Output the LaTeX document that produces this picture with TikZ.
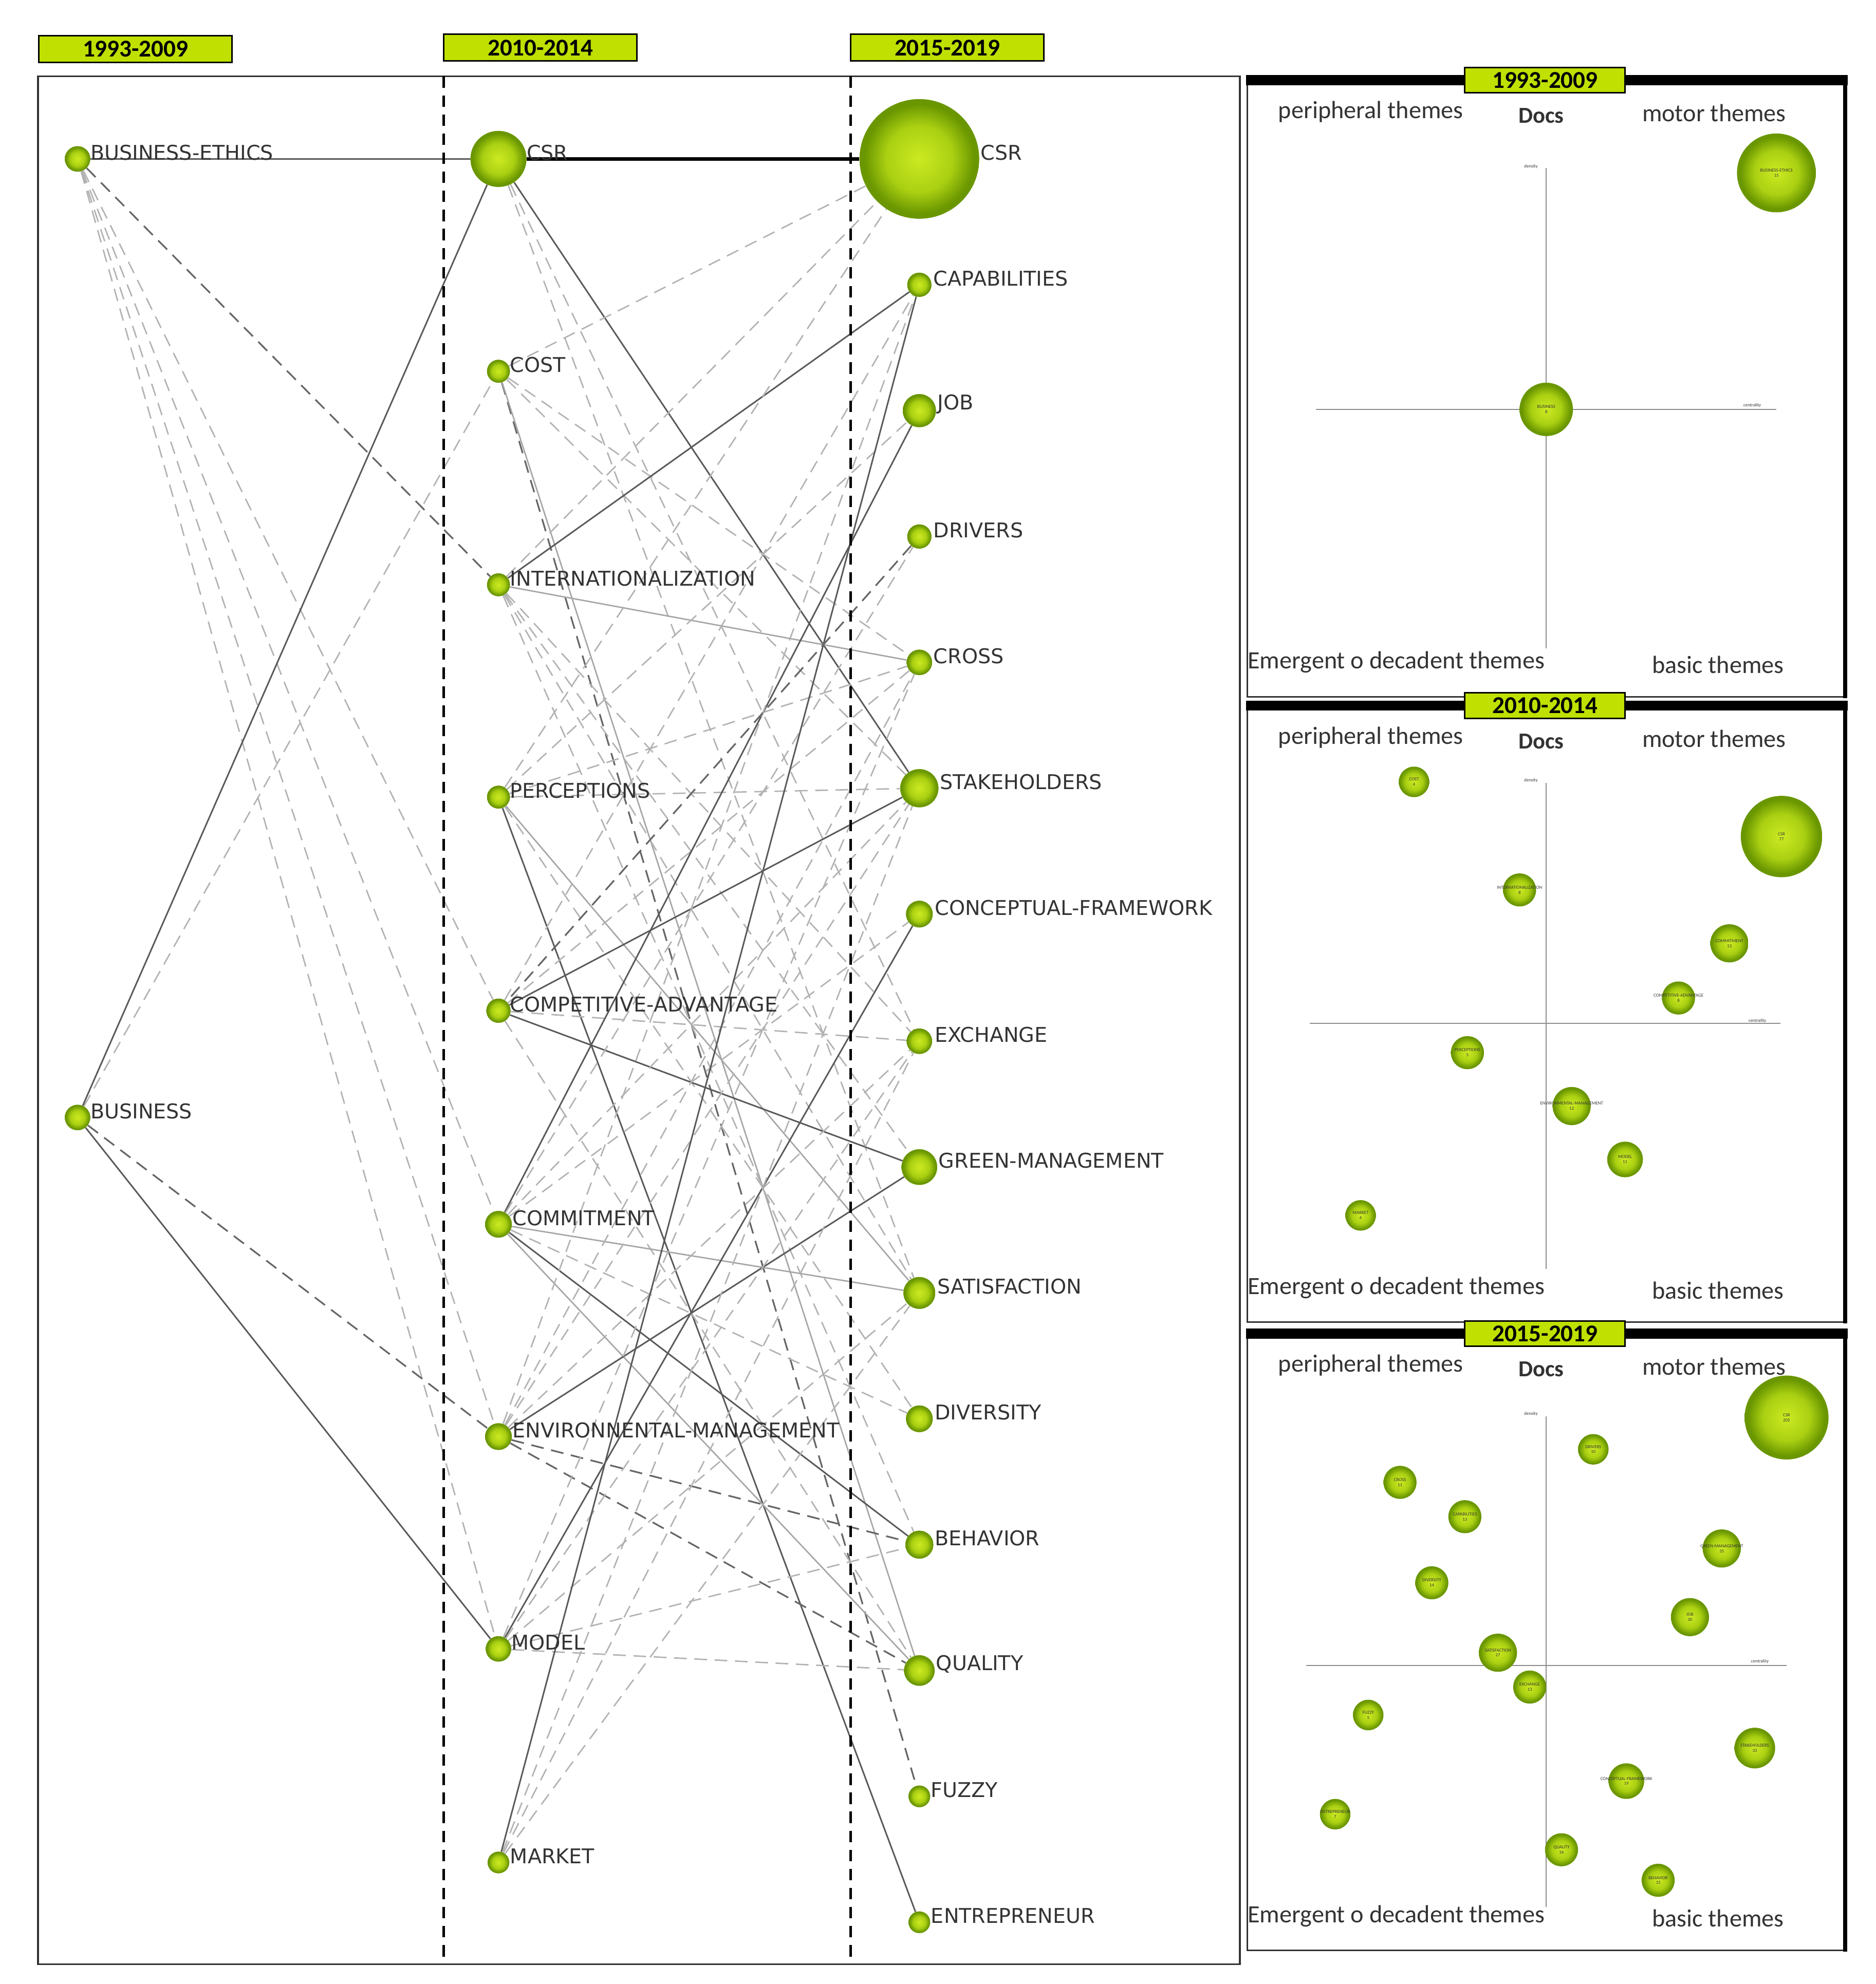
\documentclass[tikz,border=0pt]{standalone}
\usepackage{fontspec}
\setmainfont{Carlito}
\newfontfamily\verd{DejaVu Sans}
\definecolor{lime}{HTML}{BFE000}
\definecolor{glt}{HTML}{CCEA22}
\definecolor{gmd}{HTML}{AAD012}
\definecolor{gdk}{HTML}{6A9600}
\pgfdeclareradialshading{gball}{\pgfpoint{0bp}{0bp}}{color(0bp)=(glt); color(14bp)=(gmd); color(23bp)=(gdk); color(25bp)=(gdk); color(50bp)=(gdk)}
\begin{document}
\begin{tikzpicture}[x=1pt,y=-1pt,
 ball/.style={circle,shading=gball,draw=none,inner sep=0pt,minimum size=#1},
 lbl/.style={anchor=west,font=\verd\fontsize{16}{16}\selectfont,text=black!80,inner sep=0pt},
 tag/.style={draw=black,line width=1.2pt,fill=lime,minimum width=152pt,minimum height=21pt,inner sep=0pt,font=\bfseries\fontsize{19}{19}\selectfont},
 sd/.style={draw=black!65,line width=1.2pt},
 sl/.style={draw=black!35,line width=1.1pt},
 dd/.style={draw=black!60,line width=1.3pt,dash pattern=on 10pt off 6pt},
 dl/.style={draw=black!30,line width=1.1pt,dash pattern=on 10pt off 6pt},
 ptxt/.style={font=\fontsize{19.5}{19.5}\selectfont,text=black!80,inner sep=0pt},
 btxt/.style={font=\fontsize{3.6}{4}\selectfont,align=center,inner sep=0pt,text=black!80},
 ax/.style={draw=black!45,line width=1pt}]
\useasboundingbox (0,0) rectangle (1475,1560.6);
% ---------- left frame ----------
\draw[line width=1.5pt,black!80] (30,60) rectangle (975,1545);
\coordinate (d1t) at (349,60); \coordinate (d1b) at (349,1545);
\coordinate (d2t) at (669,60); \coordinate (d2b) at (669,1545);
\node[tag] (t1) at (106.5,38.5) {1993-2009};
\node[tag] (t2) at (425,37.5) {2010-2014};
\node[tag] (t3) at (745,37.5) {2015-2019};
% ---------- nodes ----------
\node[ball=20pt] (be) at (61,125) {};
\node[ball=20pt] (bu) at (61,879) {};
\node[ball=44pt] (c2) at (392,125) {};
\node[ball=18pt] (cost) at (392,292) {};
\node[ball=18pt] (intl) at (392,460) {};
\node[ball=18pt] (perc) at (392,627) {};
\node[ball=19pt] (comp) at (392,795) {};
\node[ball=21pt] (comm) at (392,963) {};
\node[ball=21pt] (env) at (392,1130) {};
\node[ball=20pt] (model) at (392,1297) {};
\node[ball=17pt] (market) at (392,1465) {};
\node[ball=94pt] (c3) at (723,125) {};
\node[ball=19pt] (cap) at (723,224) {};
\node[ball=26pt] (job) at (723,323) {};
\node[ball=19pt] (drv) at (723,422) {};
\node[ball=20pt] (cross) at (723,521) {};
\node[ball=30pt] (stk) at (723,620) {};
\node[ball=21pt] (conc) at (723,719) {};
\node[ball=20pt] (exch) at (723,819) {};
\node[ball=28pt] (green) at (723,918) {};
\node[ball=25pt] (sat) at (723,1017) {};
\node[ball=21pt] (div) at (723,1116) {};
\node[ball=22pt] (beh) at (723,1215) {};
\node[ball=24pt] (qual) at (723,1314) {};
\node[ball=17pt] (fuz) at (723,1413) {};
\node[ball=17pt] (ent) at (723,1512) {};
% ---------- edges ----------
\path[dl] (be) -- (comp); \path[dl] (be) -- (comm); \path[dl] (be) -- (env); \path[dl] (be) -- (model);
\path[dd] (be) -- (intl);
\path[dl] (bu) -- (cost); \path[dd] (bu) -- (env);
\path[sd] (be) -- (c2); \path[sd] (bu) -- (c2); \path[sd] (bu) -- (model);
\path[draw=black,line width=3pt] (c2) -- (c3);
\path[sd] (c2) -- (stk);
\path[dl] (c2) -- (sat); \path[dl] (c2) -- (exch);
\path[dl] (cost) -- (c3); \path[dl] (cost) -- (cross); \path[dl] (cost) -- (stk);
\path[dd] (cost) -- (fuz); \path[sl] (cost) -- (qual);
\path[dl] (intl) -- (c3); \path[sd] (intl) -- (cap); \path[sl] (intl) -- (cross);
\path[dl] (intl) -- (green); \path[dl] (intl) -- (sat); \path[dl] (intl) -- (exch); \path[dl] (intl) -- (beh);
\path[dl] (perc) -- (c3); \path[dl] (perc) -- (stk); \path[sl] (perc) -- (sat); \path[sd] (perc) -- (ent);
\path[dl] (perc) -- (cross); \path[dl] (perc) -- (div); \path[dl] (perc) -- (job);
\path[sd] (comp) -- (stk); \path[sd] (comp) -- (green); \path[dl] (comp) -- (cross); \path[dl] (comp) -- (qual); \path[dl] (comp) -- (exch); \path[dl] (comp) -- (cap);
\path[sd] (comm) -- (job); \path[sl] (comm) -- (sat); \path[sd] (comm) -- (beh); \path[sl] (comm) -- (qual);
\path[dl] (comm) -- (stk); \path[dl] (comm) -- (conc); \path[dl] (comm) -- (drv); \path[dl] (comm) -- (div);
\path[sd] (env) -- (green); \path[dd] (env) -- (beh); \path[dd] (env) -- (qual);
\path[dl] (env) -- (cross); \path[dl] (env) -- (exch); \path[dl] (env) -- (stk); \path[dl] (env) -- (cap);
\path[sd] (model) -- (conc); \path[dl] (model) -- (qual); \path[dl] (model) -- (beh); \path[dl] (model) -- (sat); \path[dl] (model) -- (cross); \path[dl] (model) -- (exch);
\path[sd] (market) -- (cap); \path[dl] (market) -- (sat); \path[dl] (market) -- (exch); \path[dl] (market) -- (stk);
\path[dd] (drv) -- (comp);
% redraw balls above edges
\foreach \n/\s in {be/20,bu/20,c2/44,cost/18,intl/18,perc/18,comp/19,comm/21,env/21,model/20,market/17,c3/94,cap/19,job/26,drv/19,cross/20,stk/30,conc/21,exch/20,green/28,sat/25,div/21,beh/22,qual/24,fuz/17,ent/17}
 \node[ball=\s pt] at (\n) {};
\draw[line width=2pt,dash pattern=on 9pt off 6pt] (d1t) -- (d1b);
\draw[line width=2pt,dash pattern=on 9pt off 6pt] (d2t) -- (d2b);
% labels
\node[lbl] at (71,120) {BUSINESS-ETHICS};
\node[lbl] at (71,874) {BUSINESS};
\node[lbl] at (414,120) {CSR};
\node[lbl] at (401,287) {COST};
\node[lbl] at (401,455) {INTERNATIONALIZATION};
\node[lbl] at (401,622) {PERCEPTIONS};
\node[lbl] at (401,790) {COMPETITIVE-ADVANTAGE};
\node[lbl] at (403,958) {COMMITMENT};
\node[lbl] at (403,1125) {ENVIRONNENTAL-MANAGEMENT};
\node[lbl] at (402,1292) {MODEL};
\node[lbl] at (401,1460) {MARKET};
\node[lbl] at (771,120) {CSR};
\node[lbl] at (734,219) {CAPABILITIES};
\node[lbl] at (737,318) {JOB};
\node[lbl] at (734,417) {DRIVERS};
\node[lbl] at (734,516) {CROSS};
\node[lbl] at (739,615) {STAKEHOLDERS};
\node[lbl] at (735,714) {CONCEPTUAL-FRAMEWORK};
\node[lbl] at (735,814) {EXCHANGE};
\node[lbl] at (738,913) {GREEN-MANAGEMENT};
\node[lbl] at (737,1012) {SATISFACTION};
\node[lbl] at (735,1111) {DIVERSITY};
\node[lbl] at (735,1210) {BEHAVIOR};
\node[lbl] at (736,1309) {QUALITY};
\node[lbl] at (732,1408) {FUZZY};
\node[lbl] at (732,1507) {ENTREPRENEUR};
% ---------- right panels ----------
\foreach \i/\dy/\yr in {1/0/1993-2009,2/492/2010-2014,3/986/2015-2019}{
 \begin{scope}[yshift=-\dy pt]
  \draw[black!80,line width=1.3pt] (981,63) -- (981,548) -- (1451,548);
  \draw[black,line width=3pt] (1451,63) -- (1451,549);
  \draw[black,line width=8pt] (980,63) -- (1453,63);
  \node[tag,minimum width=126pt,minimum height=20pt,font=\bfseries\fontsize{19}{19}\selectfont] (pt\i) at (1215,63) {\yr};
  \node[ptxt] (pa\i) at (1078,88) {peripheral themes};
  \node[ptxt,font=\bfseries\fontsize{18}{18}\selectfont] (pb\i) at (1212,91) {Docs};
  \node[ptxt] (pc\i) at (1348,89) {motor themes};
  \node[ptxt] (pd\i) at (1098,521) {Emergent o decadent themes};
  \node[ptxt] (pe\i) at (1351,523) {basic themes};
 \end{scope}}
% panel axes
\draw[ax] (1216,132) -- (1216,510); \draw[ax] (1035,322) -- (1397,322);
\node[btxt] at (1204,131) {density}; \node[btxt] at (1378,319) {centrality};
\draw[ax] (1216,616) -- (1216,998); \draw[ax] (1030,805) -- (1400,805);
\node[btxt] at (1204,614) {density}; \node[btxt] at (1382,803) {centrality};
\draw[ax] (1216,1114) -- (1216,1500); \draw[ax] (1027,1310) -- (1405,1310);
\node[btxt] at (1204,1112) {density}; \node[btxt] at (1384,1307) {centrality};
% panel bubbles
\foreach \n/\x/\y/\r/\t/\c in {
 qbe/1397/136/31/BUSINESS-ETHICS/15, qbu/1216/322/21/BUSINESS/8,
 rcost/1112/615/12/COST/4, rcsr/1401/658/32/CSR/77, rint/1195/700/13/INTERNATIONALIZATION/8,
 rcom/1360/742/15/COMMITMENT/13, rcad/1320/785/13/COMPETITIVE-ADVANTAGE/8, rper/1154/828/13/PERCEPTIONS/5,
 renv/1236/870/15/ENVIRONMENTAL-MANAGEMENT/12, rmod/1278/912/14/MODEL/11, rmar/1070/956/12/MARKET/4,
 scsr/1405/1115/33/CSR/205, sdrv/1253/1140/12/DRIVERS/10, scro/1101/1166/13/CROSS/11, scap/1152/1193/13/CAPABILITIES/13,
 sgre/1354/1218/15/GREEN-MANAGEMENT/35, sdiv/1126/1245/13/DIVERSITY/14, sjob/1329/1272/15/JOB/30,
 ssat/1178/1300/15/SATISFACTION/27, sexc/1203/1327/13/EXCHANGE/13, sfuz/1076/1349/12/FUZZY/5,
 sstk/1380/1375/16/STAKEHOLDERS/33, scon/1279/1401/14/CONCEPTUAL-FRAMEWORK/19, sent/1050/1427/12/ENTREPRENEUR/7,
 squa/1228/1455/13/QUALITY/16, sbeh/1304/1479/13/BEHAVIOR/15}{
 \node[ball=2*\r pt] (\n) at (\x,\y) {};
 \node[btxt] at (\x,\y) {\t\\\c};
}
\end{tikzpicture}
\end{document}
